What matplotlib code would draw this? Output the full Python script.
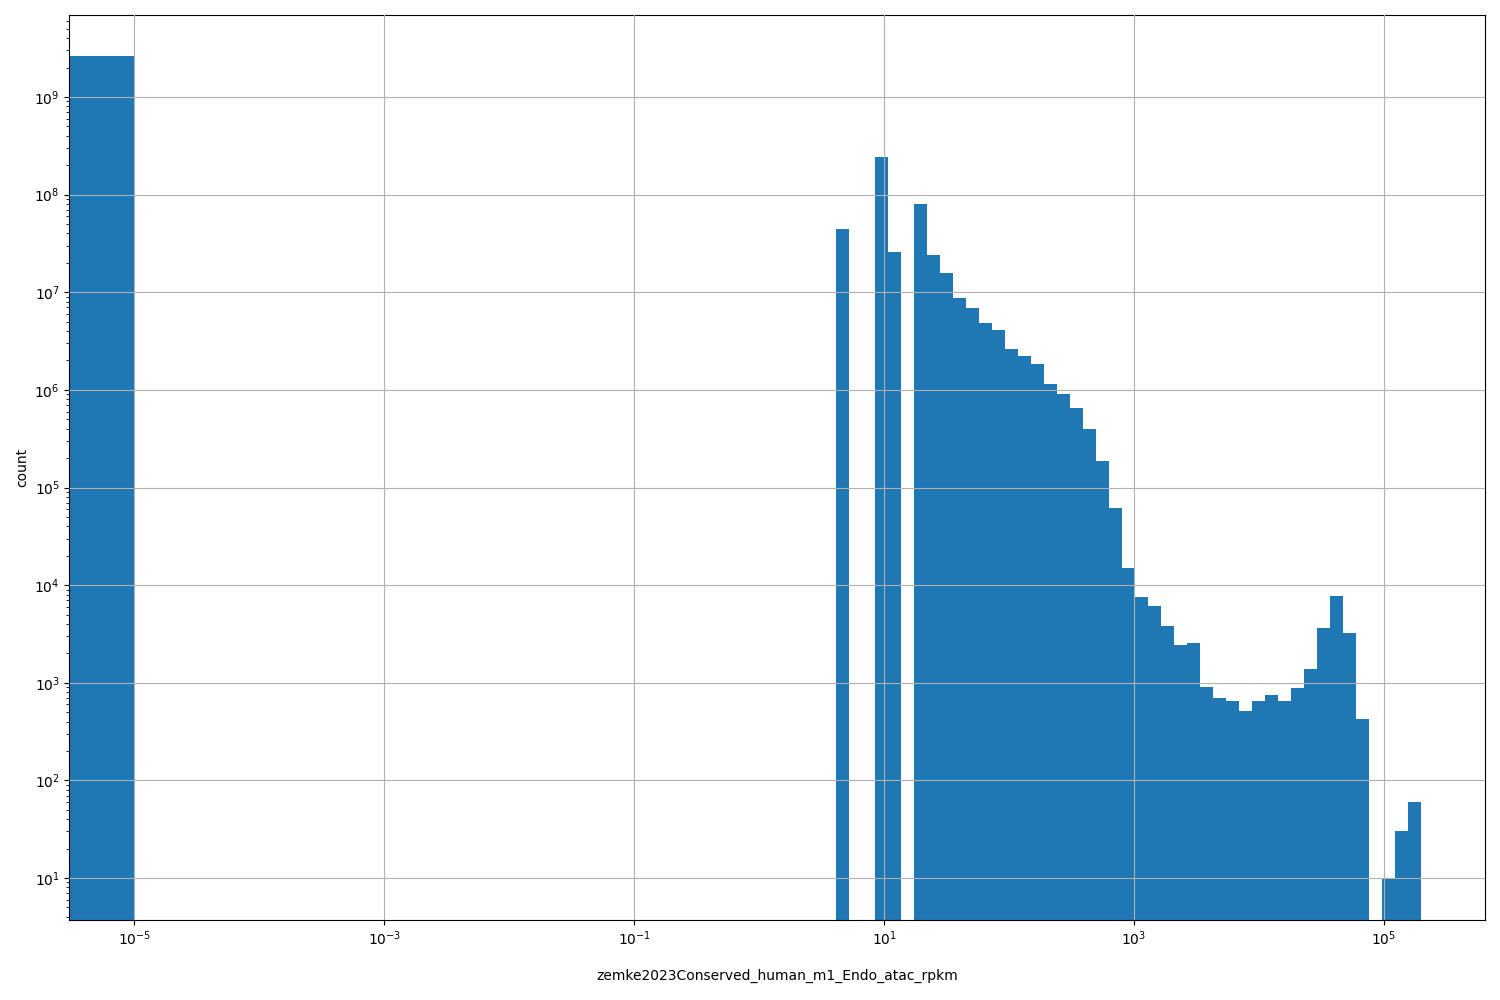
import numpy as np
import matplotlib
matplotlib.use("Agg")
import matplotlib.pyplot as plt
from matplotlib.ticker import NullLocator

# first bin holds the zero values (edge 0 .. 1e-5)
zero_bin_edges = [0.0, 1e-5]
zero_bin_count = 2.65e9

# log-spaced bins for the positive values (log10 of first/last edge, number of bins)
log_lo, log_hi, n_bins = 0.616, 5.296, 45

counts = [
    4.44e7, 0, 0, 2.43e8, 2.58e7, 0, 8.02e7, 2.41e7, 1.57e7, 8.73e6,
    6.90e6, 4.84e6, 4.11e6, 2.62e6, 2.22e6, 1.84e6, 1.15e6, 9.07e5, 6.52e5, 3.97e5,
    1.87e5, 6.17e4, 1.50e4, 7.56e3, 6.11e3, 3.81e3, 2.44e3, 2.55e3, 904, 698,
    650, 514, 650, 750, 650, 883, 1380, 3640, 7740, 3230,
    426, 0, 10, 30, 60,
]

x_ticks = [1e-5, 1e-3, 1e-1, 1e1, 1e3, 1e5]

xlabel = "zemke2023Conserved_human_m1_Endo_atac_rpkm"
ylabel = "count"

pos_edges = np.logspace(log_lo, log_hi, n_bins + 1)
edges = np.concatenate([zero_bin_edges, pos_edges])
all_counts = np.concatenate([[zero_bin_count, 0.0], counts])
centers = np.concatenate([[5e-6, 1e-3], np.sqrt(pos_edges[:-1] * pos_edges[1:])])

fig = plt.figure(figsize=(15, 10), dpi=100)
ax = fig.add_axes([0.0463, 0.08, 0.9437, 0.905])
ax.hist(centers, bins=edges, weights=all_counts, color="#1f77b4")
ax.set_xscale("log")
ax.set_yscale("log")
ax.set_xticks(x_ticks)
ax.xaxis.set_minor_locator(NullLocator())
ax.set_xlim(10 ** -5.518, 10 ** 5.808)
ax.set_ylim(10 ** 0.570, 10 ** 9.840)
ax.grid(True, color="#b0b0b0", linewidth=0.8)
ax.set_axisbelow(False)
ax.set_xlabel(xlabel, labelpad=15)
ax.set_ylabel(ylabel)
fig.savefig("out.png", dpi=100)
